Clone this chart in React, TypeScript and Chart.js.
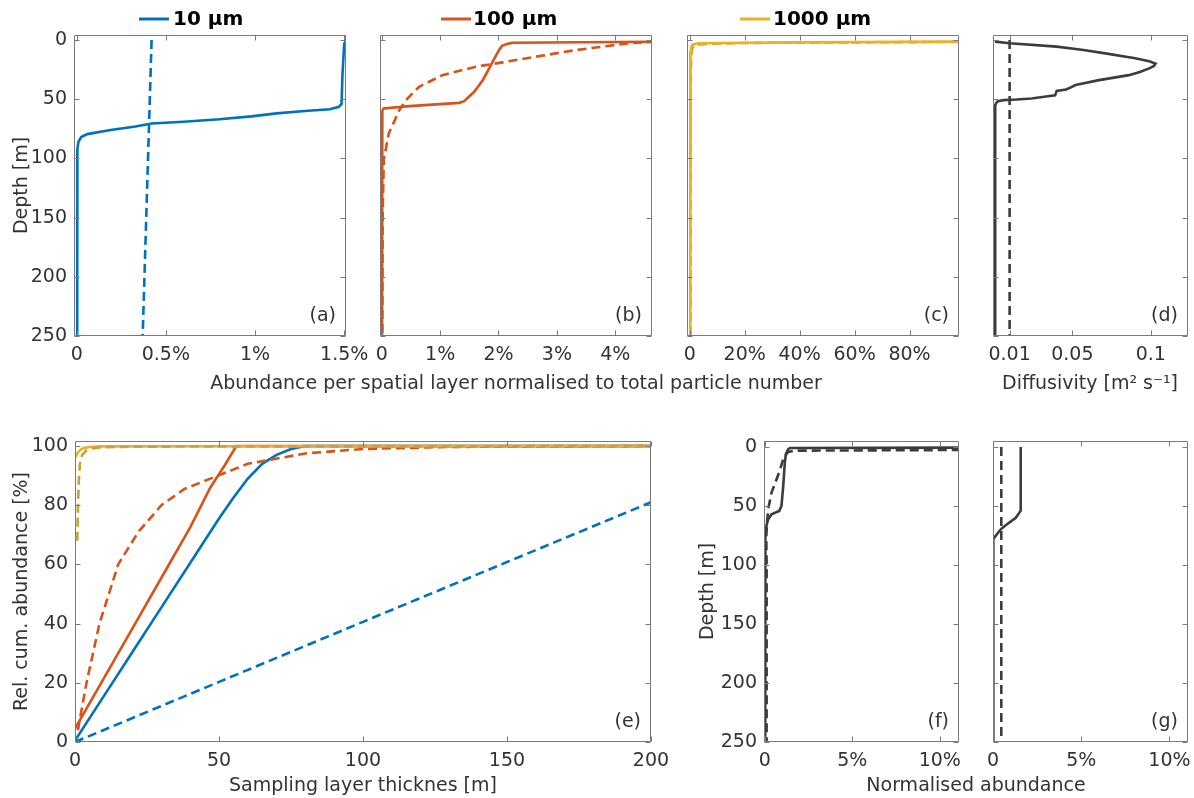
import React, { useEffect, useRef } from 'react';
import { Chart, registerables } from 'chart.js';

Chart.register(...registerables);

const W = 1194;
const H = 798;
const FONT = "'DejaVu Sans', 'Liberation Sans', sans-serif";
const TEXT = '#333333';
const AXIS = '#7a7a7a';
const TICK = 5;

const BLUE = '#0072BD';
const ORANGE = '#D95319';
const YELLOW = '#EDB120';
const YELLOW_DASH = '#C9A13B';
const GREY = '#3c3c3c';
const DASH = [9, 5];

// ---------- tick values ----------
const depthTicks = [0, 50, 100, 150, 200, 250];
const aXTicks = [0, 0.5, 1, 1.5];
const bXTicks = [0, 1, 2, 3, 4];
const cXTicks = [0, 20, 40, 60, 80];
const dXTicks = [0.01, 0.05, 0.1];
const eXTicks = [0, 50, 100, 150, 200];
const eYTicks = [0, 20, 40, 60, 80, 100];
const fgXTicks = [0, 5, 10];

// ---------- (a) 10 µm ----------
const depthA = [0.5, 3, 30, 54, 56.5, 58.5, 60, 62, 64.5, 67, 69, 70.6, 73, 76, 79.5, 82, 86, 92, 130, 250];
const abundA = [1.51, 1.5, 1.49, 1.485, 1.47, 1.42, 1.28, 1.12, 0.98, 0.8, 0.6, 0.42, 0.33, 0.19, 0.06, 0.025, 0.01, 0.004, 0.003, 0.003];
const depthAUniform = [0, 250];
const abundAUniform = [0.42, 0.37];

// ---------- (b) 100 µm ----------
const depthB = [1.5, 2.3, 3.5, 5, 8.5, 15.5, 24, 34, 44, 51.7, 53.1, 55.9, 57.9, 60, 100, 250];
const abundB = [4.7, 2.24, 2.14, 2.06, 2.01, 1.93, 1.84, 1.73, 1.58, 1.41, 1.33, 0.47, 0.03, 0.01, 0.005, 0.005];
const depthBUniform = [1.4, 2.8, 4.2, 8.5, 14.1, 18.9, 22.6, 29.7, 39.5, 49.4, 59.3, 79, 101, 150, 250];
const abundBUniform = [4.7, 4.24, 4.01, 3.33, 2.64, 2.07, 1.61, 1.04, 0.64, 0.44, 0.3, 0.12, 0.035, 0.015, 0.01];

// ---------- (c) 1000 µm ----------
const depthC = [1.4, 2.0, 2.8, 4, 6, 10, 50, 250];
const abundC = [98, 40, 3, 1, 0.5, 0.3, 0.2, 0.2];
const depthCUniform = [1.6, 2.5, 3.5, 5, 8, 15, 50, 250];
const abundCUniform = [98, 20, 4, 1.5, 0.8, 0.5, 0.3, 0.3];

// ---------- (d) diffusivity ----------
const depthD = [1.4, 2.8, 5.6, 8.5, 11.3, 15.5, 18, 20, 22, 24, 27, 29.7, 33.9, 38, 40, 41.8, 43, 46.8, 48, 49.4, 50.3, 50.8, 52, 55, 250];
const diffD = [0.0006, 0.01, 0.04, 0.057, 0.071, 0.09, 0.099, 0.103, 0.102, 0.099, 0.093, 0.086, 0.067, 0.052, 0.049, 0.046, 0.04, 0.039, 0.032, 0.024, 0.0144, 0.006, 0.002, 0.0008, 0.0008];
const depthDConst = [0, 250];
const diffDConst = [0.01, 0.01];

// ---------- (e) cumulative abundance vs sampling layer thickness ----------
const thickE10 = [0, 10, 20, 30, 40, 50, 55, 60, 65, 70, 75, 80, 200];
const cumE10 = [0.5, 15.5, 30.5, 45.5, 60.5, 75.5, 82.5, 89, 94, 97, 99, 100, 100];
const thickE10U = [0, 50, 100, 150, 200];
const cumE10U = [0, 20.3, 40.6, 60.8, 81];
const thickE100 = [0, 10, 20, 30, 40, 47, 52, 56, 200];
const cumE100 = [4.5, 21.5, 38.5, 55.5, 72.5, 86, 93.5, 100, 100];
const thickE100U = [1, 4, 8.5, 15, 22, 30, 38, 47, 60, 80, 100, 130, 200];
const cumE100U = [4, 20, 40, 60, 71, 80, 85.5, 89, 94, 97.5, 99, 99.7, 100];
const thickE1000 = [0, 1, 2, 3, 5, 8, 200];
const cumE1000 = [96, 97.8, 98.8, 99.3, 99.7, 99.9, 100];
const thickE1000U = [0.8, 1.0, 1.3, 1.7, 2.5, 4, 6, 10, 20, 200];
const cumE1000U = [68, 78, 88, 94, 97, 98.5, 99.2, 99.6, 99.8, 100];

// ---------- (f) ----------
const depthF = [0.6, 0.9, 2, 6.2, 13.3, 33, 50, 54.2, 57, 61.3, 66, 72.6, 80, 250];
const abundF = [11.2, 1.43, 1.33, 1.2, 1.14, 1.05, 0.95, 0.82, 0.38, 0.19, 0.1, 0.03, 0.02, 0.02];
const depthFDash = [2.6, 3.2, 4.5, 10.4, 20, 27.4, 38.7, 52.8, 65, 76, 100, 250];
const abundFDash = [11.2, 1.7, 1.3, 1.05, 0.85, 0.67, 0.38, 0.19, 0.12, 0.08, 0.1, 0.1];

// ---------- (g) ----------
const depthG = [0, 54, 60, 66.4, 69.8, 75.4, 78, 250];
const abundG = [1.57, 1.57, 1.29, 0.72, 0.44, 0.15, 0.02, 0.02];
const depthGDash = [0, 250];
const abundGDash = [0.47, 0.47];

// ---------- types ----------
interface Series { xs: number[]; ys: number[]; color: string; dash?: number[]; width?: number; }
interface TextItem { text: string; x: number; y: number; rotate?: boolean; size?: number; bold?: boolean; align?: CanvasTextAlign; color?: string; }
interface LegendItem { x1: number; x2: number; y: number; color: string; text: string; tx: number; }
interface PanelSpec {
  tag: string;
  box: [number, number, number, number];
  xRange: [number, number];
  yRange: [number, number];
  yReverse: boolean;
  xTicks: number[];
  xLabel: (v: number) => string;
  yTicks: number[];
  yLabels: boolean;
  series: Series[];
  texts: TextItem[];
  legend?: LegendItem;
}

const pct = (v: number) => (v === 0 ? '0' : `${v}%`);
const plain = (v: number) => `${v}`;

const TOP: [number, number] = [35, 336];
const BOT: [number, number] = [441, 742];

const PANELS: PanelSpec[] = [
  {
    tag: '(a)', box: [74, TOP[0], 346, TOP[1]], xRange: [-0.015, 1.51], yRange: [-4.2, 250], yReverse: true,
    xTicks: aXTicks, xLabel: pct, yTicks: depthTicks, yLabels: true,
    series: [
      { xs: abundA, ys: depthA, color: BLUE },
      { xs: abundAUniform, ys: depthAUniform, color: BLUE, dash: DASH },
    ],
    texts: [{ text: 'Depth [m]', x: 22, y: 185.5, rotate: true }],
    legend: { x1: 139, x2: 169, y: 19, color: BLUE, text: '10 µm', tx: 173 },
  },
  {
    tag: '(b)', box: [380, TOP[0], 652, TOP[1]], xRange: [-0.03, 4.63], yRange: [-4.2, 250], yReverse: true,
    xTicks: bXTicks, xLabel: pct, yTicks: depthTicks, yLabels: false,
    series: [
      { xs: abundB, ys: depthB, color: ORANGE },
      { xs: abundBUniform, ys: depthBUniform, color: ORANGE, dash: DASH },
    ],
    texts: [{ text: 'Abundance per spatial layer normalised to total particle number', x: 516, y: 384 }],
    legend: { x1: 441, x2: 471, y: 19, color: ORANGE, text: '100 µm', tx: 473 },
  },
  {
    tag: '(c)', box: [687, TOP[0], 959, TOP[1]], xRange: [-1, 98], yRange: [-4.2, 250], yReverse: true,
    xTicks: cXTicks, xLabel: pct, yTicks: depthTicks, yLabels: false,
    series: [
      { xs: abundC, ys: depthC, color: YELLOW },
      { xs: abundCUniform, ys: depthCUniform, color: YELLOW_DASH, dash: DASH },
    ],
    texts: [],
    legend: { x1: 740, x2: 770, y: 19, color: YELLOW, text: '1000 µm', tx: 773 },
  },
  {
    tag: '(d)', box: [993, TOP[0], 1188, TOP[1]], xRange: [-0.0006, 0.1237], yRange: [-4.2, 250], yReverse: true,
    xTicks: dXTicks, xLabel: plain, yTicks: depthTicks, yLabels: false,
    series: [
      { xs: diffD, ys: depthD, color: GREY },
      { xs: diffDConst, ys: depthDConst, color: GREY, dash: DASH },
    ],
    texts: [{ text: 'Diffusivity [m² s⁻¹]', x: 1090, y: 384 }],
  },
  {
    tag: '(e)', box: [75, BOT[0], 651, BOT[1]], xRange: [0, 200], yRange: [0, 101.7], yReverse: false,
    xTicks: eXTicks, xLabel: plain, yTicks: eYTicks, yLabels: true,
    series: [
      { xs: thickE1000U, ys: cumE1000U, color: YELLOW_DASH, dash: DASH },
      { xs: thickE1000, ys: cumE1000, color: YELLOW },
      { xs: thickE100U, ys: cumE100U, color: ORANGE, dash: DASH },
      { xs: thickE100, ys: cumE100, color: ORANGE },
      { xs: thickE10U, ys: cumE10U, color: BLUE, dash: DASH },
      { xs: thickE10, ys: cumE10, color: BLUE },
    ],
    texts: [
      { text: 'Rel. cum. abundance [%]', x: 22, y: 591.5, rotate: true },
      { text: 'Sampling layer thicknes [m]', x: 363, y: 786 },
    ],
  },
  {
    tag: '(f)', box: [764, BOT[0], 959, BOT[1]], xRange: [-0.05, 11.1], yRange: [-5, 250], yReverse: true,
    xTicks: fgXTicks, xLabel: pct, yTicks: depthTicks, yLabels: true,
    series: [
      { xs: abundF, ys: depthF, color: GREY },
      { xs: abundFDash, ys: depthFDash, color: GREY, dash: DASH },
    ],
    texts: [
      { text: 'Depth [m]', x: 708, y: 591.5, rotate: true },
      { text: 'Normalised abundance', x: 976, y: 786 },
    ],
  },
  {
    tag: '(g)', box: [993, BOT[0], 1188, BOT[1]], xRange: [0, 11.05], yRange: [-5, 250], yReverse: true,
    xTicks: fgXTicks, xLabel: pct, yTicks: depthTicks, yLabels: false,
    series: [
      { xs: abundG, ys: depthG, color: GREY },
      { xs: abundGDash, ys: depthGDash, color: GREY, dash: DASH },
    ],
    texts: [],
  },
];

const YW = 70;
const XH = 40;

function makeFrame(spec: PanelSpec) {
  return {
    id: 'frame',
    afterDatasetsDraw(chart: any) {
      const { ctx, chartArea: a } = chart;
      const xs = chart.scales.x;
      const ys = chart.scales.y;
      ctx.save();
      ctx.strokeStyle = AXIS;
      ctx.lineWidth = 1;
      ctx.beginPath();
      const L = Math.round(a.left) + 0.5;
      const R = Math.round(a.right) - 0.5;
      const T = Math.round(a.top) + 0.5;
      const B = Math.round(a.bottom) - 0.5;
      ctx.rect(L, T, R - L, B - T);
      for (const v of spec.xTicks) {
        const p = Math.round(xs.getPixelForValue(v)) + 0.5;
        ctx.moveTo(p, B); ctx.lineTo(p, B - TICK);
        ctx.moveTo(p, T); ctx.lineTo(p, T + TICK);
      }
      for (const v of spec.yTicks) {
        const p = Math.round(ys.getPixelForValue(v)) + 0.5;
        ctx.moveTo(L, p); ctx.lineTo(L + TICK, p);
        ctx.moveTo(R, p); ctx.lineTo(R - TICK, p);
      }
      ctx.stroke();
      ctx.restore();
    },
    afterDraw(chart: any) {
      const { ctx, chartArea: a } = chart;
      ctx.save();
      ctx.textBaseline = 'middle';
      ctx.fillStyle = TEXT;
      ctx.font = `19px ${FONT}`;
      ctx.textAlign = 'right';
      ctx.fillText(spec.tag, a.right - 10, a.bottom - 20);
      for (const t of spec.texts) {
        ctx.save();
        ctx.fillStyle = t.color ?? TEXT;
        ctx.font = `${t.bold ? 'bold ' : ''}${t.size ?? 19}px ${FONT}`;
        ctx.textAlign = t.align ?? 'center';
        ctx.translate(t.x, t.y);
        if (t.rotate) ctx.rotate(-Math.PI / 2);
        ctx.fillText(t.text, 0, 0);
        ctx.restore();
      }
      const lg = spec.legend;
      if (lg) {
        ctx.strokeStyle = lg.color;
        ctx.lineWidth = 3;
        ctx.beginPath();
        ctx.moveTo(lg.x1, lg.y);
        ctx.lineTo(lg.x2, lg.y);
        ctx.stroke();
        ctx.fillStyle = '#000';
        ctx.font = `bold 20px ${FONT}`;
        ctx.textAlign = 'left';
        ctx.fillText(lg.text, lg.tx, lg.y + 1);
      }
      ctx.restore();
    },
  };
}

function buildConfig(spec: PanelSpec): any {
  const [l, t, r, b] = spec.box;
  return {
    type: 'scatter',
    data: {
      datasets: spec.series.map((s) => ({
        data: s.xs.map((x, i) => ({ x, y: s.ys[i] })),
        showLine: true,
        borderColor: s.color,
        backgroundColor: s.color,
        borderWidth: s.width ?? 2.6,
        borderDash: s.dash ?? [],
        pointRadius: 0,
        pointHoverRadius: 0,
        fill: false,
        tension: 0,
      })),
    },
    options: {
      responsive: false,
      animation: false,
      devicePixelRatio: 1,
      events: [],
      layout: { padding: { left: l - YW, top: t, right: W - r, bottom: H - b - XH } },
      plugins: { legend: { display: false }, tooltip: { enabled: false }, title: { display: false } },
      scales: {
        x: {
          type: 'linear',
          position: 'bottom',
          min: spec.xRange[0],
          max: spec.xRange[1],
          grid: { display: false, drawTicks: false },
          border: { display: false },
          ticks: {
            font: { family: FONT, size: 19 },
            color: TEXT,
            padding: 8,
            autoSkip: false,
            maxRotation: 0,
            minRotation: 0,
            callback: (v: number) => spec.xLabel(v),
          },
          afterBuildTicks: (s: any) => { s.ticks = spec.xTicks.map((v) => ({ value: v })); },
          afterFit: (s: any) => { s.height = XH; s.paddingLeft = 0; s.paddingRight = 0; },
        },
        y: {
          type: 'linear',
          position: 'left',
          min: spec.yRange[0],
          max: spec.yRange[1],
          reverse: spec.yReverse,
          grid: { display: false, drawTicks: false },
          border: { display: false },
          ticks: {
            display: spec.yLabels,
            font: { family: FONT, size: 19 },
            color: TEXT,
            padding: 7,
            autoSkip: false,
            callback: (v: number) => `${v}`,
          },
          afterBuildTicks: (s: any) => { s.ticks = spec.yTicks.map((v) => ({ value: v })); },
          afterFit: (s: any) => { s.width = YW; s.paddingTop = 0; s.paddingBottom = 0; },
        },
      },
    },
    plugins: [makeFrame(spec)],
  };
}

export default function App() {
  const refs = useRef<(HTMLCanvasElement | null)[]>([]);
  useEffect(() => {
    const charts = PANELS.map((p, i) => new Chart(refs.current[i] as HTMLCanvasElement, buildConfig(p)));
    return () => charts.forEach((c) => c.destroy());
  }, []);
  return (
    <div style={{ position: 'absolute', left: 0, top: 0, width: W, height: H, background: '#ffffff', overflow: 'hidden' }}>
      {PANELS.map((p, i) => (
        <canvas
          key={p.tag}
          ref={(el) => { refs.current[i] = el; }}
          width={W}
          height={H}
          style={{ position: 'absolute', left: 0, top: 0, width: W, height: H }}
        />
      ))}
    </div>
  );
}
